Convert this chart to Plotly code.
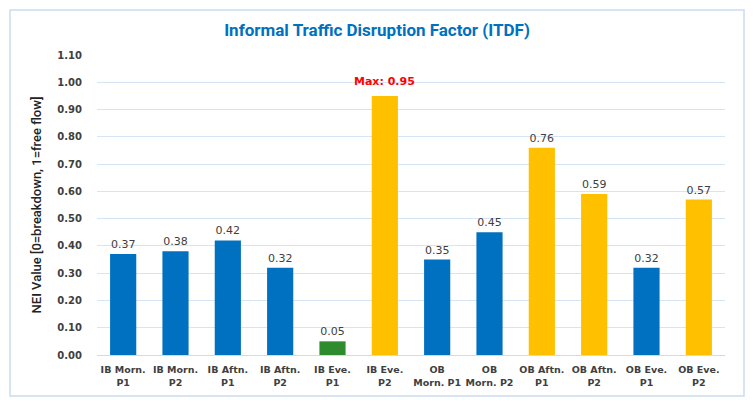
import plotly.graph_objects as go

categories = ["IB Morn.<br>P1", "IB Morn.<br>P2", "IB Aftn.<br>P1", "IB Aftn.<br>P2", "IB Eve.<br>P1", "IB Eve.<br>P2",
              "OB<br>Morn. P1", "OB<br>Morn. P2", "OB Aftn.<br>P1", "OB Aftn.<br>P2", "OB Eve.<br>P1", "OB Eve.<br>P2"]
values = [0.37, 0.38, 0.42, 0.32, 0.05, 0.95, 0.35, 0.45, 0.76, 0.59, 0.32, 0.57]
bar_colors = ["#0070C0", "#0070C0", "#0070C0", "#0070C0", "#2E8B2E", "#FFC000",
              "#0070C0", "#0070C0", "#FFC000", "#FFC000", "#0070C0", "#FFC000"]
y_ticks = [0.0, 0.1, 0.2, 0.3, 0.4, 0.5, 0.6, 0.7, 0.8, 0.9, 1.0, 1.1]

max_idx = values.index(max(values))
texts = [f"{v:.2f}" if i != max_idx else "" for i, v in enumerate(values)]

fig = go.Figure()
fig.add_trace(go.Bar(
    x=categories, y=values, marker=dict(color=bar_colors, line=dict(width=0)),
    text=texts, textposition="outside", cliponaxis=False,
    textfont=dict(family="DejaVu Sans", size=11, color="#404040"),
))
fig.add_annotation(x=categories[max_idx], y=values[max_idx], text=f"<b>Max: {values[max_idx]:.2f}</b>",
                   showarrow=False, yanchor="bottom", yshift=6,
                   font=dict(family="DejaVu Sans", size=11, color="#FF0000"))

fig.update_layout(
    width=754, height=406,
    margin=dict(l=97, r=29, t=55, b=51),
    paper_bgcolor="white", plot_bgcolor="white",
    showlegend=False,
    bargap=0.5,
    title=dict(text="<b>Informal Traffic Disruption Factor (ITDF)</b>", x=0.5, xanchor="center",
               y=1 - 30 / 406, yanchor="middle", xref="container",
               font=dict(family="Roboto", size=17, color="#0070C0")),
    xaxis=dict(tickfont=dict(family="DejaVu Sans", size=9.5, color="#404040"),
               showline=True, linecolor="#C9DCF0", linewidth=1,
               ticks="outside", ticklen=6, tickcolor="rgba(0,0,0,0)",
               tickangle=0, automargin=False,
               tickprefix="<b>", ticksuffix="</b>"),
    yaxis=dict(range=[0, 1.1], tickvals=y_ticks, ticktext=[f"<b>{t:.2f}</b>" for t in y_ticks],
               tickfont=dict(family="DejaVu Sans", size=10, color="#404040"),
               showgrid=True, gridcolor="#D6E5F5", gridwidth=1, zeroline=False,
               ticks="outside", ticklen=12, tickcolor="rgba(0,0,0,0)", automargin=False,
               title=dict(text="NEI Value [0=breakdown, 1=free flow]", standoff=12,
                          font=dict(family="Roboto", size=13, color="#222222", weight=500))),
)
fig.add_shape(type="rect", xref="paper", yref="paper",
              x0=(10 - 97) / 628, x1=(744 - 97) / 628, y0=(355 - 396) / 300, y1=(355 - 10) / 300,
              line=dict(color="#C9DCF0", width=1.5), fillcolor="rgba(0,0,0,0)", layer="below")
fig.write_html("out.html")
